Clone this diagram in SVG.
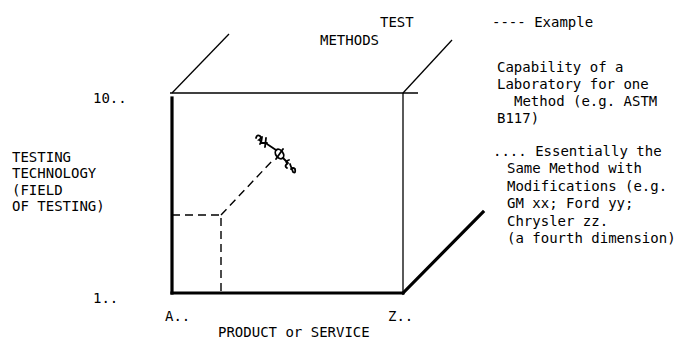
<svg xmlns="http://www.w3.org/2000/svg" width="678" height="339" viewBox="0 0 678 339">
<style>
text{font-family:"DejaVu Sans Mono","Liberation Mono",monospace;font-size:14px;fill:#000}
.thin{stroke:#000;stroke-width:1.3;fill:none}
.thick{stroke:#000;stroke-width:3.2;fill:none;stroke-linecap:square}
.dash{stroke:#000;stroke-width:1.4;fill:none;stroke-dasharray:8 5}
</style>
<rect width="678" height="339" fill="#fff"/>
<g id="connectors">
<line class="thin" x1="170" y1="93" x2="418" y2="93"/>
<line class="thin" x1="403" y1="93" x2="403" y2="293"/>
<line class="thin" x1="172" y1="93" x2="229" y2="34"/>
<line class="thin" x1="403" y1="93" x2="452" y2="40"/>
<line class="thick" x1="172" y1="98" x2="172" y2="293"/>
<line class="thick" x1="172" y1="293" x2="403" y2="293"/>
<line class="thick" x1="403" y1="293" x2="483" y2="212"/>
<polyline class="dash" points="172,215 221,215 221,293"/>
<line class="dash" x1="221" y1="215" x2="272" y2="161"/>
</g>
<g id="example-mark" fill="none" stroke="#000" stroke-width="1.8" stroke-linecap="round">
<line x1="267" y1="144" x2="276" y2="150"/>
<line x1="283" y1="158" x2="288" y2="163"/>
<ellipse cx="279.5" cy="154" rx="3.6" ry="5.2" transform="rotate(-35 279.5 154)"/>
<line x1="276" y1="159" x2="283" y2="149"/>
<path d="M256,138 q1,-4 4,-2 q2,2 -1,4 q3,1 1,4"/>
<path d="M262,137 l-1,6 l6,0 M266,138 l-1,9"/>
<path d="M289,160 q-4,1 -2,4 q-3,2 0,4"/>
<path d="M290,164 l3,8 q3,2 2,-3 q-2,-2 -4,0"/>
</g>
<g id="axis-vertical">
<text x="93" y="103">10..</text>
<text x="93" y="303">1..</text>
<text x="12" y="162">TESTING</text>
<text x="12" y="178">TECHNOLOGY</text>
<text x="12" y="195">(FIELD</text>
<text x="12" y="211">OF TESTING)</text>
</g>
<g id="axis-horizontal">
<text x="165" y="321">A..</text>
<text x="388" y="321">Z..</text>
<text x="218" y="337">PRODUCT or SERVICE</text>
</g>
<g id="axis-depth">
<text x="380" y="27">TEST</text>
<text x="320" y="45">METHODS</text>
</g>
<g id="legend-example">
<text x="492" y="27">---- Example</text>
<text x="497" y="72">Capability of a</text>
<text x="497" y="89">Laboratory for one</text>
<text x="514" y="106">Method (e.g. ASTM</text>
<text x="497" y="123">B117)</text>
</g>
<g id="legend-fourth">
<text x="493" y="156">.... Essentially the</text>
<text x="507" y="173">Same Method with</text>
<text x="507" y="191">Modifications (e.g.</text>
<text x="507" y="208">GM xx; Ford yy;</text>
<text x="507" y="226">Chrysler zz.</text>
<text x="507" y="243">(a fourth dimension)</text>
</g>
</svg>
